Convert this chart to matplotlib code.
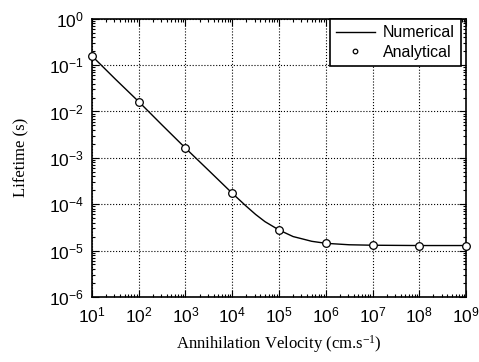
"""Effective lifetime versus annihilation velocity (numerical vs analytical)."""

import matplotlib

matplotlib.use("Agg")
import matplotlib.pyplot as plt
from matplotlib.ticker import LogLocator, NullFormatter

# analytical solution, one point per decade
velocity_analytical = [1e1, 1e2, 1e3, 1e4, 1e5, 1e6, 1e7, 1e8, 1e9]
lifetime_analytical = [0.158, 0.0163, 1.62e-3, 1.78e-4, 2.77e-5,
                       1.42e-5, 1.30e-5, 1.28e-5, 1.28e-5]

# numerical curve, read every half decade (a bit finer near the knee)
velocity_numerical = [1e1, 3.16e1, 1e2, 3.16e2, 1e3, 3.16e3, 1e4, 2e4,
                      3.16e4, 5e4, 1e5, 2e5, 3.16e5, 5e5, 1e6, 3.16e6,
                      1e7, 1e8, 1e9]
lifetime_numerical = [0.158, 5.0e-2, 1.63e-2, 5.1e-3, 1.62e-3, 5.3e-4,
                      1.72e-4, 9.0e-5, 6.0e-5, 4.2e-5, 2.77e-5, 2.0e-5,
                      1.78e-5, 1.58e-5, 1.43e-5, 1.33e-5, 1.30e-5,
                      1.28e-5, 1.28e-5]

plt.rcParams["font.family"] = "Liberation Sans"
plt.rcParams["mathtext.default"] = "regular"

fig = plt.figure(figsize=(4.79, 3.62), dpi=100)
ax = fig.add_axes([0.192, 0.180, 0.781, 0.768])

ax.plot(velocity_numerical, lifetime_numerical, color="black", lw=1.0,
        label="Numerical")
ax.plot(velocity_analytical, lifetime_analytical, ls="none", marker="o",
        ms=5.5, mfc="white", mec="black", mew=0.9, label="Analytical",
        clip_on=False, zorder=5)

ax.set_xscale("log")
ax.set_yscale("log")
ax.set_xlim(1e1, 1e9)
ax.set_ylim(1e-6, 1e0)

ax.xaxis.set_major_locator(LogLocator(base=10, numticks=20))
ax.xaxis.set_minor_locator(LogLocator(base=10, subs=range(2, 10), numticks=20))
ax.yaxis.set_major_locator(LogLocator(base=10, numticks=20))
ax.yaxis.set_minor_locator(LogLocator(base=10, subs=range(2, 10), numticks=20))
ax.xaxis.set_minor_formatter(NullFormatter())
ax.yaxis.set_minor_formatter(NullFormatter())

ax.tick_params(which="both", direction="in", top=True, right=True,
               labelsize=12.5, width=0.8)
ax.tick_params(which="major", length=5, pad=6)
ax.tick_params(which="minor", length=2.5)
ax.grid(True, which="major", color="black", ls=":", lw=0.8)
for spine in ax.spines.values():
    spine.set_linewidth(1.2)

ax.set_xlabel("Annihilation Velocity (cm.s$^{-1}$)", family="Liberation Serif",
              fontsize=12, labelpad=6)
ax.set_ylabel("Lifetime (s)", family="Liberation Serif", fontsize=12,
              labelpad=14)

leg = ax.legend(loc="upper right", bbox_to_anchor=(0.986, 1.0),
                borderaxespad=0, fancybox=False, edgecolor="black",
                framealpha=1, fontsize=11.5, handlelength=2.4,
                markerscale=0.6, borderpad=0.4, labelspacing=0.3,
                handletextpad=0.5)
leg.get_frame().set_linewidth(1.2)

fig.savefig("out.png", dpi=100)
